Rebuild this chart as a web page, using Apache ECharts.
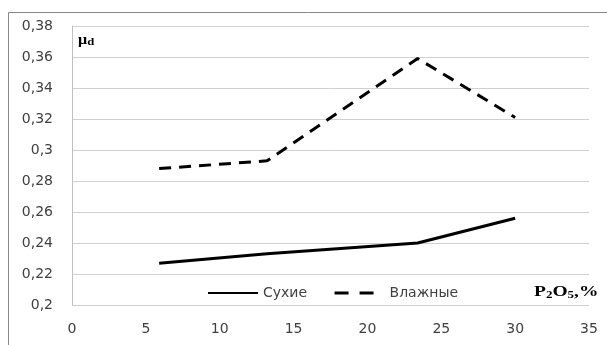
<!DOCTYPE html>
<html><head><meta charset="utf-8">
<script src="https://cdn.jsdelivr.net/npm/echarts@6/dist/echarts.min.js"></script>
<style>html,body{margin:0;padding:0;background:#fff}#c{width:607px;height:345px}</style>
</head><body><div id="c"></div>
<script>
var seriesNames = ['Сухие', 'Влажные'];
var xDry = [5.9, 13.2, 23.4, 30];
var yDry = [0.227, 0.233, 0.240, 0.256];
var xWet = [5.9, 13.2, 23.4, 30];
var yWet = [0.288, 0.293, 0.359, 0.321];
var xTicks = {min: 0, max: 35, interval: 5};
var yTicks = {min: 0.2, max: 0.38, interval: 0.02};

function pairs(xs, ys){ return xs.map(function(x,i){ return [x, ys[i]]; }); }
function fmt(v){ return String(Math.round(v*100)/100).replace('.', ','); }

var chart = echarts.init(document.getElementById('c'), null, {renderer:'canvas'});
chart.setOption({
  animation: false,
  backgroundColor: '#fff',
  grid: {left: 72, right: 18, top: 26, bottom: 40},
  xAxis: {
    type: 'value', min: xTicks.min, max: xTicks.max, interval: xTicks.interval,
    axisLine: {show: false}, axisTick: {show: false}, splitLine: {show: false},
    axisLabel: {color: '#404040', fontFamily: 'DejaVu Sans', fontSize: 14, margin: 17}
  },
  yAxis: {
    type: 'value', min: yTicks.min, max: yTicks.max, interval: yTicks.interval,
    axisLine: {show: true, lineStyle: {color: '#bfbfbf', width: 1}},
    axisTick: {show: false},
    splitLine: {show: true, lineStyle: {color: '#d0d0d0', width: 1}},
    axisLabel: {color: '#404040', fontFamily: 'DejaVu Sans', fontSize: 14, margin: 19, formatter: fmt}
  },
  legend: {
    left: 202, top: 281, itemWidth: 50, itemHeight: 14, itemGap: 26,
    itemStyle: {opacity: 0},
    textStyle: {color: '#404040', fontFamily: 'DejaVu Sans', fontSize: 14},
    data: [
      {name: seriesNames[0]},
      {name: seriesNames[1], lineStyle: {type: [14, 11], width: 3, color: '#000'}}
    ]
  },
  graphic: [
    {type: 'line', shape: {x1: 8.5, y1: 345, x2: 8.5, y2: 12.5}, style: {stroke: '#888', lineWidth: 1}},
    {type: 'line', shape: {x1: 8.5, y1: 12.5, x2: 607, y2: 12.5}, style: {stroke: '#888', lineWidth: 1}},
    {type: 'text', x: 78, y: 32, scaleX: 1.15, style: {
      text: '{m|μ}{s|d}', rich: {
        m: {fontFamily: 'Liberation Serif', fontWeight: 'bold', fontSize: 14, fill: '#000'},
        s: {fontFamily: 'Liberation Serif', fontWeight: 'bold', fontSize: 11, fill: '#000', padding: [5,0,0,0]}
      }}},
    {type: 'text', x: 534, y: 284, scaleX: 1.3, style: {
      text: '{m|P}{s|2}{m|O}{s|5}{m|,%}', rich: {
        m: {fontFamily: 'Liberation Serif', fontWeight: 'bold', fontSize: 15, fill: '#000'},
        s: {fontFamily: 'Liberation Serif', fontWeight: 'bold', fontSize: 10, fill: '#000', padding: [6,0,0,0]}
      }}}
  ],
  series: [
    {name: seriesNames[0], type: 'line', data: pairs(xDry, yDry), symbol: 'none',
     lineStyle: {color: '#000', width: 3, type: 'solid'}, itemStyle: {color: '#000'}},
    {name: seriesNames[1], type: 'line', data: pairs(xWet, yWet), symbol: 'none',
     lineStyle: {color: '#000', width: 3, type: [12, 8]}, itemStyle: {color: '#000'}}
  ]
});
</script></body></html>
